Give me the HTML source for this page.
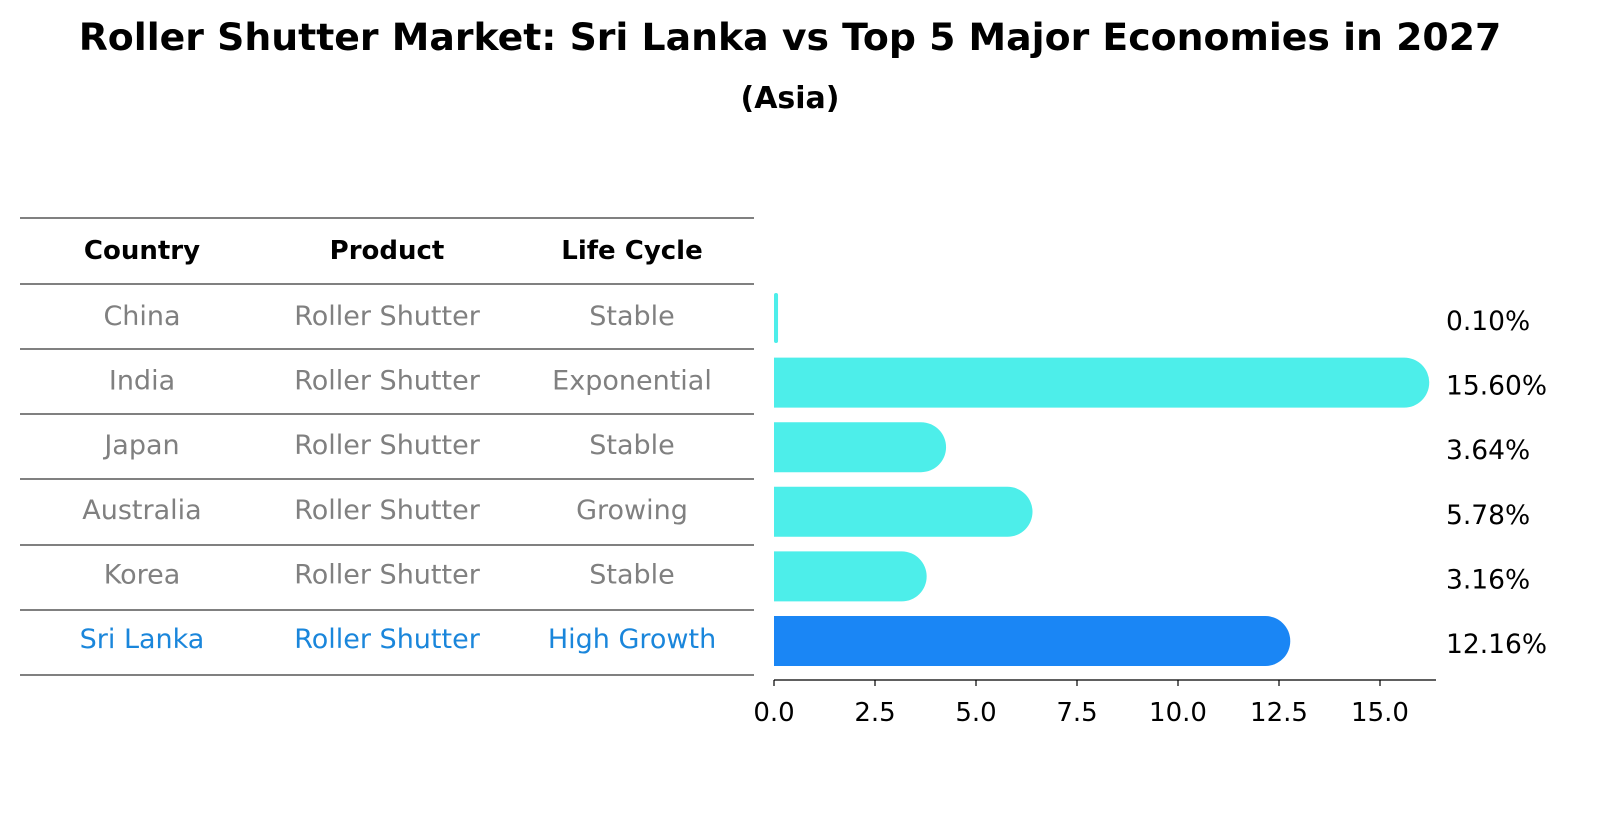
<!DOCTYPE html>
<html><head><meta charset="utf-8"><style>
body{margin:0;background:#fff;width:1604px;height:823px;overflow:hidden;font-family:"Liberation Sans","DejaVu Sans",sans-serif;}
</style></head><body>
<svg width="1604" height="823" xmlns="http://www.w3.org/2000/svg" font-family="DejaVu Sans, Liberation Sans, sans-serif">
<text x="790" y="50" text-anchor="middle" font-size="37.8" font-weight="bold">Roller Shutter Market: Sri Lanka vs Top 5 Major Economies in 2027</text>
<text x="790" y="108" text-anchor="middle" font-size="30" font-weight="bold">(Asia)</text>
<g id="table"></g>
<g id="bars"></g>
<g id="axis"></g>
</svg>
<script>
const countries=["China","India","Japan","Australia","Korea","Sri Lanka"];
const products=["Roller Shutter","Roller Shutter","Roller Shutter","Roller Shutter","Roller Shutter","Roller Shutter"];
const lifeCycles=["Stable","Exponential","Stable","Growing","Stable","High Growth"];
const values=[0.10,15.60,3.64,5.78,3.16,12.16];
const ticks=[0,2.5,5,7.5,10,12.5,15];
const NS="http://www.w3.org/2000/svg";
const x0=774,pxPer=40.4;
const xs=v=>x0+v*pxPer;
const rowY=i=>316+i*64.6;
function mk(tag,attrs,parent){const e=document.createElementNS(NS,tag);for(const k in attrs)e.setAttribute(k,attrs[k]);parent.appendChild(e);return e;}
const tbl=document.getElementById('table');
const lineYs=[218,284,349,414,479,545,610,675];
lineYs.forEach(y=>{const l=mk('line',{x1:20,x2:754,y1:y,y2:y,stroke:'#000','stroke-width':1},tbl);

});
const colX=[142,387,632];
["Country","Product","Life Cycle"].forEach((h,j)=>{const t=mk('text',{x:colX[j],y:259,'text-anchor':'middle','font-size':26,'font-weight':'bold'},tbl);t.textContent=h;

});
countries.forEach((c,i)=>{const col=i==5?'#1a86db':'#808080';[c,products[i],lifeCycles[i]].forEach((s,j)=>{const t=mk('text',{x:colX[j],y:rowY(i)+9,'text-anchor':'middle','font-size':27,fill:col},tbl);t.textContent=s;

});});
const bars=document.getElementById('bars');
values.forEach((v,i)=>{const cy=rowY(i)+2,h=50,r=25;const col=i==5?'#1a86f5':'#4deeea';
let b;
if(v<0.5){b=mk('rect',{x:x0,y:cy-h/2,width:Math.max(xs(v)-x0,4),height:h,fill:col,rx:2},bars);}
else{const xe=xs(v);b=mk('path',{d:`M${x0},${cy-h/2}H${xe}A${r},${r} 0 0 1 ${xe},${cy+h/2}H${x0}Z`,fill:col},bars);}


const t=mk('text',{x:1446,y:cy+12,'font-size':26.5},bars);t.textContent=v.toFixed(2)+'%';

});
const ax=document.getElementById('axis');
mk('line',{x1:x0,x2:1436,y1:680,y2:680,stroke:'#000','stroke-width':1.2},ax);
ticks.forEach(t=>{mk('line',{x1:xs(t),x2:xs(t),y1:680,y2:686,stroke:'#000','stroke-width':1.2},ax);
const tx=mk('text',{x:xs(t),y:721,'text-anchor':'middle','font-size':26},ax);tx.textContent=t.toFixed(1);

});
</script>
</body></html>
